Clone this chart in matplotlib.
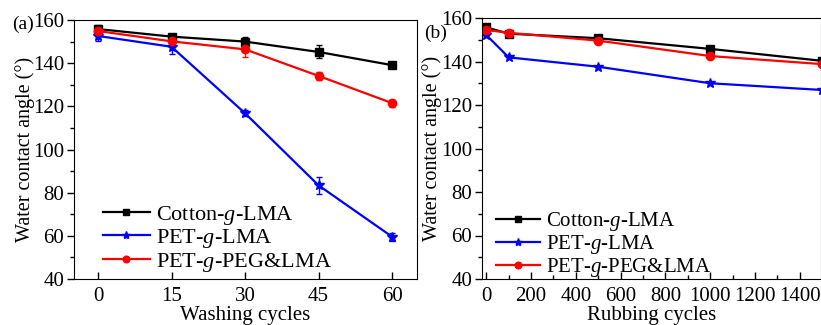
import matplotlib
matplotlib.use("Agg")
import matplotlib.pyplot as plt
from matplotlib.ticker import MultipleLocator
from matplotlib.lines import Line2D

plt.rcParams['font.family'] = ['Liberation Serif', 'DejaVu Serif']
plt.rcParams['mathtext.fontset'] = 'custom'
plt.rcParams['mathtext.it'] = 'Liberation Serif:italic'
plt.rcParams['mathtext.rm'] = 'Liberation Serif'

# panel (a): washing
wash = [0, 15, 30, 45, 60]
cotton_a = [155.8, 152.3, 150.0, 145.2, 139.1]
cotton_a_err = [2.0, 1.0, 2.2, 3.0, 1.0]
pet_a = [152.6, 147.6, 116.8, 83.4, 59.6]
pet_a_err = [2.2, 3.5, 1.5, 4.0, 1.8]
peg_a = [154.9, 150.1, 146.4, 134.1, 121.5]
peg_a_err = [2.0, 1.5, 3.5, 1.8, 1.6]

# panel (b): rubbing
rub = [0, 100, 500, 1000, 1500]
cotton_b = [155.7, 152.8, 150.7, 145.8, 140.3]
pet_b = [152.2, 141.9, 137.6, 130.0, 126.9]
peg_b = [154.5, 153.2, 149.6, 142.5, 138.8]

labels = ['Cotton-$\\it{g}$-LMA', 'PET-$\\it{g}$-LMA', 'PET-$\\it{g}$-PEG&LMA']
colors = ['black', 'blue', 'red']
markers = ['s', '*', 'o']
msizes = [6, 7.5, 6]

fig = plt.figure(figsize=(8.21, 3.25), dpi=100)
ax1 = fig.add_axes([74/821, 1-279/325, (417-74)/821, (279-20)/325])
ax2 = fig.add_axes([482/821, 1-279/325, (821-482)/821, (279-18)/325])

for y, e, c, m, s in zip([cotton_a, pet_a, peg_a], [cotton_a_err, pet_a_err, peg_a_err],
                          colors, markers, msizes):
    ax1.errorbar(wash, y, yerr=e, color=c, marker=m, ms=s, lw=1.6, capsize=2,
                 elinewidth=1)

for y, c, m, s in zip([cotton_b, pet_b, peg_b], colors, markers, msizes):
    ax2.plot(rub, y, color=c, marker=m, ms=s, lw=1.6)

ax1.set_xlim(-4.9, 65.1)
ax1.set_xticks(wash)
ax2.set_xlim(-19, 1495)
ax2.xaxis.set_major_locator(MultipleLocator(200))
ax2.xaxis.set_minor_locator(MultipleLocator(100))

handles = [Line2D([], [], color=c, marker=m, ms=s * 0.8, lw=1.6)
           for c, m, s in zip(colors, markers, msizes)]

for ax in (ax1, ax2):
    ax.set_ylim(40, 160)
    ax.yaxis.set_major_locator(MultipleLocator(20))
    ax.yaxis.set_minor_locator(MultipleLocator(10))
    ax.tick_params(axis='y', which='both', direction='out', labelsize=15, pad=2, width=1)
    ax.tick_params(axis='x', which='both', direction='in', labelsize=15, pad=6, width=1)
    ax.tick_params(which='major', length=5)
    ax.tick_params(which='minor', length=3)

ax1.set_ylabel('Water contact angle (°)', fontsize=14.5, labelpad=-1.5)
ax2.set_ylabel('Water contact angle (°)', fontsize=14.5, labelpad=-1)

ax1.legend(handles, labels, loc='lower left', frameon=False, fontsize=16,
           handlelength=2.1, handletextpad=0.3, labelspacing=0.02,
           borderpad=0, borderaxespad=0, bbox_to_anchor=(0.085, 0.021))
ax2.legend(handles, labels, loc='lower left', frameon=False, fontsize=15,
           handlelength=2.1, handletextpad=0.3, labelspacing=0.0,
           borderpad=0, borderaxespad=0, bbox_to_anchor=(0.041, 0.0))

ax1.set_xlabel('Washing cycles', fontsize=15, labelpad=0)
ax2.set_xlabel('Rubbing cycles', fontsize=15, labelpad=0)

fig.text(12/821, 1-24/325, '(a)', fontsize=14, va='center')
fig.text(424/821, 1-33/325, '(b)', fontsize=14, va='center')

fig.savefig('out.png', dpi=100)
